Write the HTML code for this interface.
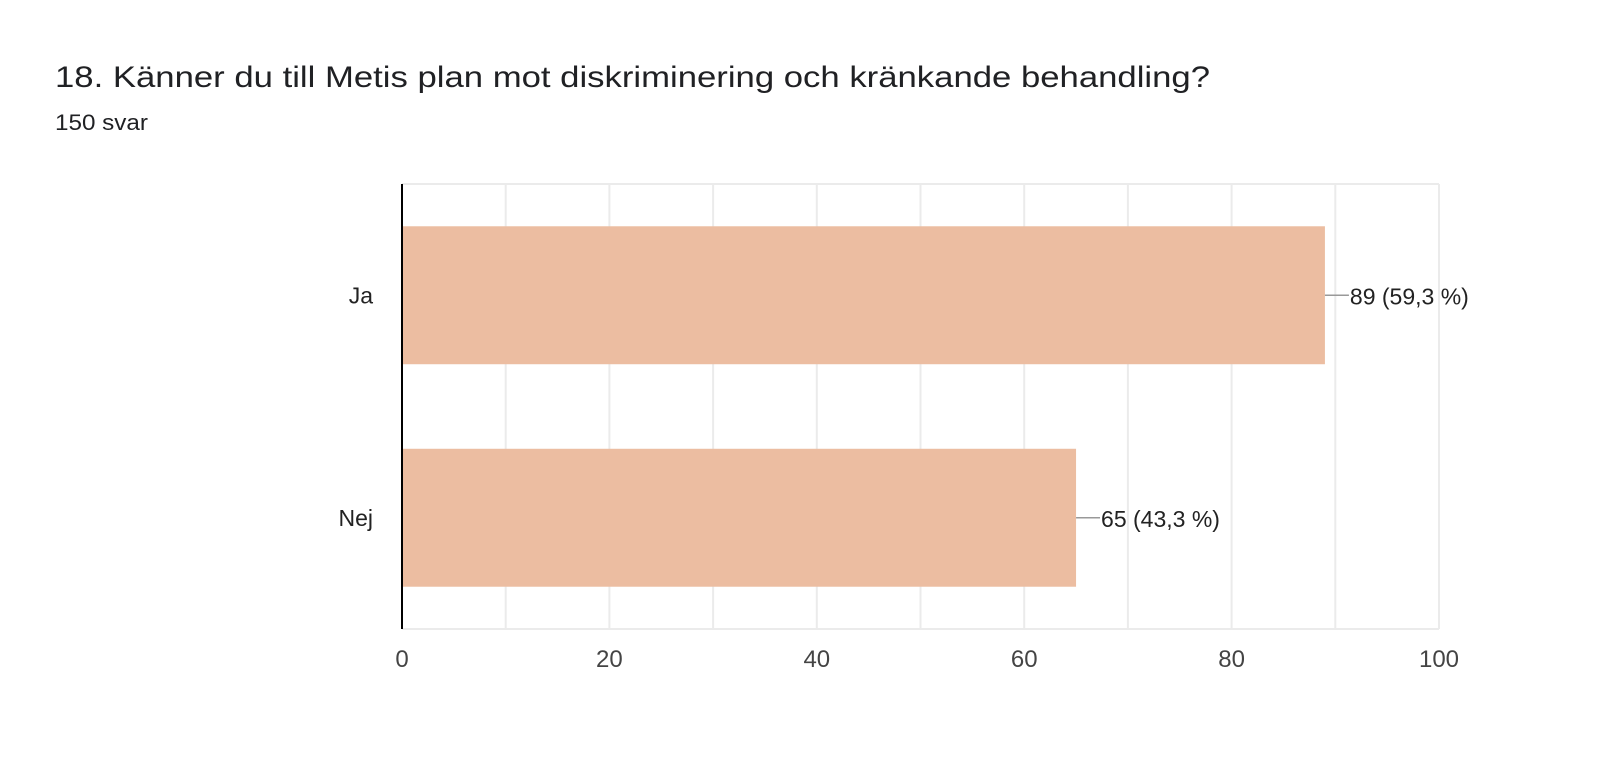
<!DOCTYPE html>
<html><head><meta charset="utf-8"><style>
html,body{margin:0;padding:0;background:#fff;}
svg{display:block;font-family:"Liberation Sans",Arial,sans-serif;}
</style></head><body>
<svg width="1600" height="761" viewBox="0 0 1600 761">
<text x="55" y="87" font-size="30" fill="#202124" textLength="1155" lengthAdjust="spacingAndGlyphs">18. Känner du till Metis plan mot diskriminering och kränkande behandling?</text>
<text x="55" y="130" font-size="22" fill="#202124" textLength="93" lengthAdjust="spacingAndGlyphs">150 svar</text>
<g id="grid"></g>
<g id="bars"></g>
<g id="labels"></g>
<g id="ticks"></g>
<line x1="402" y1="184" x2="402" y2="629" stroke="#000" stroke-width="2"/>
</svg>
<script>
const categories = ["Ja", "Nej"];
const values = [89, 65];
const pctLabels = ["59,3 %", "43,3 %"];
const tickValues = [0, 20, 40, 60, 80, 100];
const gridValues = [0,10,20,30,40,50,60,70,80,90,100];

const NS = "http://www.w3.org/2000/svg";
const X0 = 402, X1 = 1439, Y0 = 184, Y1 = 629, XMAX = 100;
const xs = v => X0 + (v / XMAX) * (X1 - X0);
const band = (Y1 - Y0) / categories.length;
const barH = band * 0.62;
function mk(tag, attrs, parent) {
  const e = document.createElementNS(NS, tag);
  for (const k in attrs) e.setAttribute(k, attrs[k]);
  parent.appendChild(e);
  return e;
}
const grid = document.getElementById('grid');
gridValues.forEach(v => {
  const l = mk('line', {x1: xs(v), x2: xs(v), y1: Y0, y2: Y1, stroke: '#ebebeb', 'stroke-width': 2}, grid);
  
  
});
[Y0, Y1].forEach(y => {
  const l = mk('line', {x1: X0, x2: X1, y1: y, y2: y, stroke: '#ebebeb', 'stroke-width': 2}, grid);
  
  
});
const bars = document.getElementById('bars');
const labels = document.getElementById('labels');
categories.forEach((c, i) => {
  const cy = Y0 + band * (i + 0.5);
  const r = mk('rect', {x: X0, y: cy - barH / 2, width: xs(values[i]) - X0, height: barH, fill: '#ecbda1'}, bars);
  
  
  const cl = mk('text', {x: 373, y: cy + 8, 'font-size': 23, fill: '#222', 'text-anchor': 'end'}, labels);
  cl.textContent = c;
  
  
  const ex = xs(values[i]);
  const ln = mk('line', {x1: ex, x2: ex + 24, y1: cy, y2: cy, stroke: '#999', 'stroke-width': 1.5}, labels);
  
  
  const t = mk('text', {x: ex + 25, y: cy + 9, 'font-size': 23, fill: '#222'}, labels);
  t.textContent = values[i] + ' (' + pctLabels[i] + ')';
  
  
});
const ticks = document.getElementById('ticks');
tickValues.forEach(v => {
  const t = mk('text', {x: xs(v), y: 667, 'font-size': 24, fill: '#444', 'text-anchor': 'middle'}, ticks);
  t.textContent = v;
  
  
});
</script>
</body></html>
